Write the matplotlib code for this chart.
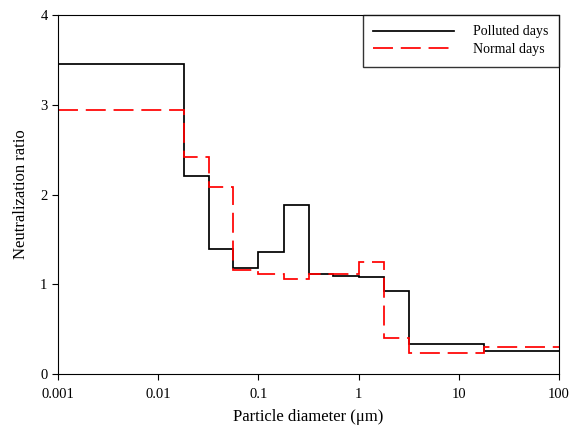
import numpy as np
import matplotlib
matplotlib.use('Agg')
import matplotlib.pyplot as plt

plt.rcParams['font.family'] = ['Liberation Serif', 'DejaVu Serif']

edges = [0.001, 0.018, 0.032, 0.056, 0.1, 0.18, 0.32, 0.56, 1.0, 1.8, 3.2, 18, 100]
polluted = [3.45, 2.21, 1.39, 1.18, 1.36, 1.88, 1.11, 1.09, 1.08, 0.92, 0.34, 0.26]
normal = [2.94, 2.42, 2.08, 1.16, 1.11, 1.06, 1.12, 1.11, 1.25, 0.40, 0.23, 0.30]

xticks = [0.001, 0.01, 0.1, 1, 10, 100]
xticklabels = ['0.001', '0.01', '0.1', '1', '10', '100']

fig = plt.figure(figsize=(5.8, 4.28), dpi=100)
ax = fig.add_axes([0.1, 0.126, 0.864, 0.839])

ax.stairs(polluted, edges, baseline=None, color='black', lw=1.25, label='Polluted days')
ax.stairs(normal, edges, baseline=None, color='red', lw=1.25,
          linestyle=(0, (11.5, 4.5)), label='Normal days')

ax.set_xscale('log')
ax.set_xlim(0.001, 100)
ax.set_ylim(0, 4)
ax.set_xticks(xticks)
ax.set_xticklabels(xticklabels)
ax.xaxis.set_minor_locator(matplotlib.ticker.NullLocator())
ax.set_yticks([0, 1, 2, 3, 4])
ax.tick_params(direction='out', length=4, labelsize=10.5, top=False, right=False)
ax.tick_params(axis='x', pad=6)

ax.set_xlabel('Particle diameter (μm)', fontsize=12, labelpad=6)
ax.set_ylabel('Neutralization ratio', fontsize=12, labelpad=8)

leg = ax.legend(loc='upper right', fontsize=10, handlelength=5.8, frameon=True,
                fancybox=False, borderaxespad=0, borderpad=0.75, handletextpad=1.4,
                labelspacing=0.35)
leg.get_frame().set_edgecolor('black')
leg.get_frame().set_linewidth(1.0)

fig.savefig('out.png', dpi=100)
